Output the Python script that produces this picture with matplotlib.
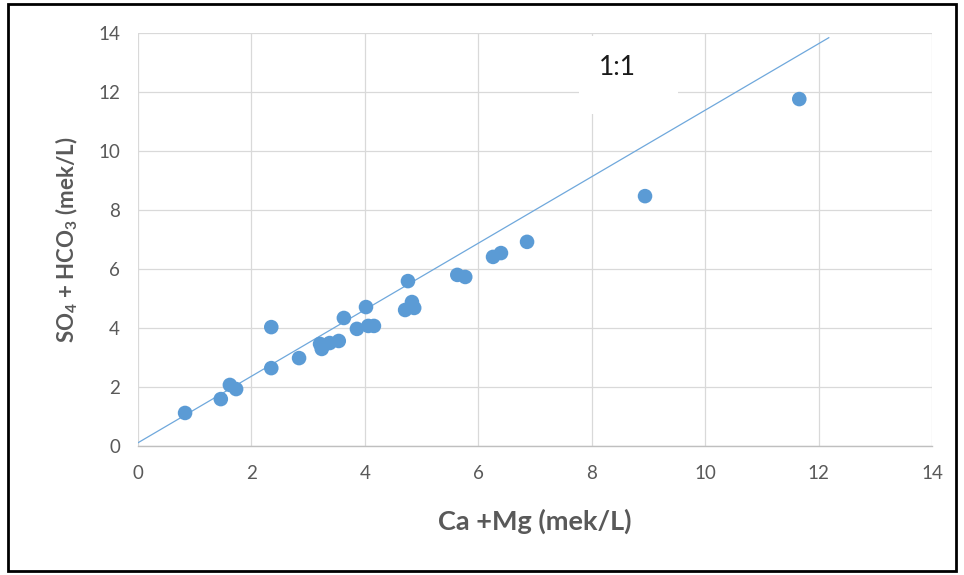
from matplotlib import pyplot as plt
from matplotlib.patches import Rectangle

plt.rcParams['font.family'] = ['Lato', 'DejaVu Sans']
plt.rcParams['mathtext.fontset'] = 'custom'
plt.rcParams['mathtext.rm'] = 'Lato:bold'
plt.rcParams['mathtext.bf'] = 'Lato:bold'
plt.rcParams['mathtext.default'] = 'rm'

# Ca+Mg vs SO4+HCO3 (mek/L)
CA_MG = [0.83, 1.46, 1.62, 1.73, 2.35, 2.35, 2.84, 3.21, 3.24, 3.38, 3.54,
         3.63, 3.86, 4.02, 4.06, 4.16, 4.71, 4.76, 4.83, 4.87, 5.63, 5.77,
         6.26, 6.40, 6.86, 8.94, 11.66]
SO4_HCO3 = [1.12, 1.59, 2.07, 1.93, 2.64, 4.03, 2.98, 3.46, 3.29, 3.49, 3.56,
            4.34, 3.97, 4.71, 4.07, 4.07, 4.61, 5.59, 4.88, 4.68, 5.80, 5.73,
            6.41, 6.54, 6.92, 8.47, 11.76]

LINE_X = [0, 12.18]
LINE_Y = [0.11, 13.84]

TICKS = [0, 2, 4, 6, 8, 10, 12, 14]

BLUE = '#5b9bd5'
GREY_TXT = '#595959'

fig = plt.figure(figsize=(9.64, 5.75), dpi=100)
ax = fig.add_axes([138 / 964, 1 - 446 / 575, 794 / 964, 413 / 575])

ax.plot(LINE_X, LINE_Y, color='#6fa8dc', lw=0.9, zorder=3)
ax.scatter(CA_MG, SO4_HCO3, s=110, color=BLUE, edgecolors='none', zorder=4)

# white label box that hides the grid behind "1:1"
ax.add_patch(Rectangle((7.78, 11.25), 1.75, 2.65, facecolor='white',
                       edgecolor='none', zorder=2))
ax.text(8.45, 12.82, '1:1', fontsize=19, color='#1a1a1a', ha='center',
        va='center', zorder=5)

ax.set_xlim(0, 14)
ax.set_ylim(0, 14)
ax.set_xticks(TICKS)
ax.set_yticks(TICKS)
ax.grid(True, color='#d9d9d9', lw=0.9, zorder=0)
ax.set_axisbelow(True)
for s in ['top', 'right', 'left']:
    ax.spines[s].set_visible(False)
ax.spines['bottom'].set_color('#bfbfbf')
ax.spines['bottom'].set_linewidth(1.0)
ax.tick_params(axis='both', length=0, labelsize=13.5, labelcolor=GREY_TXT)
ax.tick_params(axis='x', pad=14)
ax.tick_params(axis='y', pad=13)

ax.set_xlabel('Ca +Mg (mek/L)', fontsize=19.5, fontweight='bold',
              color=GREY_TXT, va='center')
ax.xaxis.set_label_coords(0.5, -0.182)
ax.set_ylabel(r'SO$_4$ + HCO$_3$ (mek/L)', fontsize=16, fontweight='bold',
              color=GREY_TXT, va='center')
ax.yaxis.set_label_coords(-0.09, 0.5)

# frame round the whole picture
fig.patches.append(Rectangle((8 / 964, 4 / 575), 948 / 964, 567 / 575,
                             transform=fig.transFigure, fill=False,
                             edgecolor='black', lw=2.0))

plt.savefig('out.png', dpi=100)
